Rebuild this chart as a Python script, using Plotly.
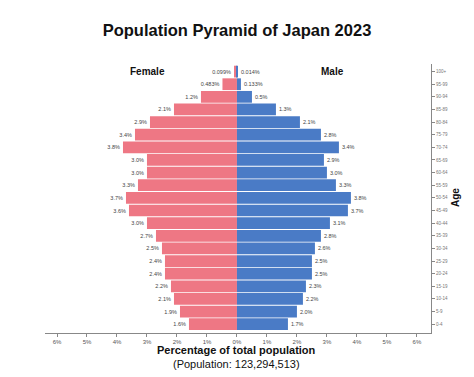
import plotly.graph_objects as go
import numpy as np

ages = ["0-4", "5-9", "10-14", "15-19", "20-24", "25-29", "30-34", "35-39", "40-44",
        "45-49", "50-54", "55-59", "60-64", "65-69", "70-74", "75-79", "80-84",
        "85-89", "90-94", "95-99", "100+"]
female = [1.6, 1.9, 2.1, 2.2, 2.4, 2.4, 2.5, 2.7, 3.0, 3.6, 3.7, 3.3, 3.0, 3.0,
          3.8, 3.4, 2.9, 2.1, 1.2, 0.483, 0.099]
male = [1.7, 2.0, 2.2, 2.3, 2.5, 2.5, 2.6, 2.8, 3.1, 3.7, 3.8, 3.3, 3.0, 2.9,
        3.4, 2.8, 2.1, 1.3, 0.5, 0.133, 0.014]
tick_vals = [-6, -5, -4, -3, -2, -1, 0, 1, 2, 3, 4, 5, 6]
tick_text = ["6%", "5%", "4%", "3%", "2%", "1%", "0%", "1%", "2%", "3%", "4%", "5%", "6%"]


def fmt(v):
    return f"{v:.1f}%" if abs(v - round(v, 1)) < 1e-9 else f"{v:g}%"


PINK = "#EE7784"
BLUE = "#4A7BC6"
W, H = 474, 377
T, B = 64, 44
PH = H - T - B


def py(px):
    # pixel row -> paper y
    return (H - B - px) / PH


fig = go.Figure()
fig.add_trace(go.Bar(
    y=ages, x=-np.array(female), orientation="h", name="Female",
    marker=dict(color=PINK, line=dict(width=0)),
    text=[fmt(v) for v in female], textposition="outside",
    textfont=dict(size=5.5, color="#444444", family="Arial"),
    constraintext="none", cliponaxis=False, hoverinfo="skip",
))
fig.add_trace(go.Bar(
    y=ages, x=np.array(male), orientation="h", name="Male",
    marker=dict(color=BLUE, line=dict(width=0)),
    text=[fmt(v) for v in male], textposition="outside",
    textfont=dict(size=5.5, color="#444444", family="Arial"),
    constraintext="none", cliponaxis=False, hoverinfo="skip",
))

fig.update_layout(
    width=W, height=H,
    margin=dict(l=45, r=43, t=T, b=B),
    barmode="overlay", bargap=0.07,
    plot_bgcolor="white", paper_bgcolor="white",
    showlegend=False,
    font=dict(family="Arial", color="#222222"),
    title=dict(text="<b>Population Pyramid of Japan 2023</b>", x=0.5, xanchor="center",
               y=1 - 30 / H, yanchor="middle",
               font=dict(size=16.5, color="#111111", family="Arial")),
    xaxis=dict(range=[-6.4, 6.47], tickvals=tick_vals, ticktext=tick_text,
               showgrid=False, zeroline=False, showline=True, linecolor="#888888",
               linewidth=1, ticks="outside", ticklen=3, tickcolor="#888888",
               tickfont=dict(size=6, color="#555555"), automargin=False),
    yaxis=dict(side="right", range=[-0.7, 20.6], showgrid=False, zeroline=False,
               showline=True, linecolor="#888888", linewidth=1, ticks="outside",
               ticklen=3, tickcolor="#888888", tickfont=dict(size=4.5, color="#777777"),
               automargin=False),
    annotations=[
        dict(x=-2.97, y="100+", text="<b>Female</b>", showarrow=False,
             font=dict(size=10, color="#111111"), xanchor="center", yanchor="middle"),
        dict(x=3.2, y="100+", text="<b>Male</b>", showarrow=False,
             font=dict(size=10, color="#111111"), xanchor="center", yanchor="middle"),
        dict(x=0, xref="x", y=py(350), yref="paper", text="<b>Percentage of total population</b>",
             showarrow=False, font=dict(size=11, color="#111111"),
             xanchor="center", yanchor="middle"),
        dict(x=0, xref="x", y=py(364), yref="paper", text="(Population: 123,294,513)",
             showarrow=False, font=dict(size=11, color="#111111"),
             xanchor="center", yanchor="middle"),
        dict(x=(455 - 45) / (W - 45 - 43), xref="paper", y=py(198), yref="paper",
             text="<b>Age</b>", textangle=-90, showarrow=False,
             font=dict(size=10, color="#111111"), xanchor="center", yanchor="middle"),
    ],
)

fig.write_html("out.html")
